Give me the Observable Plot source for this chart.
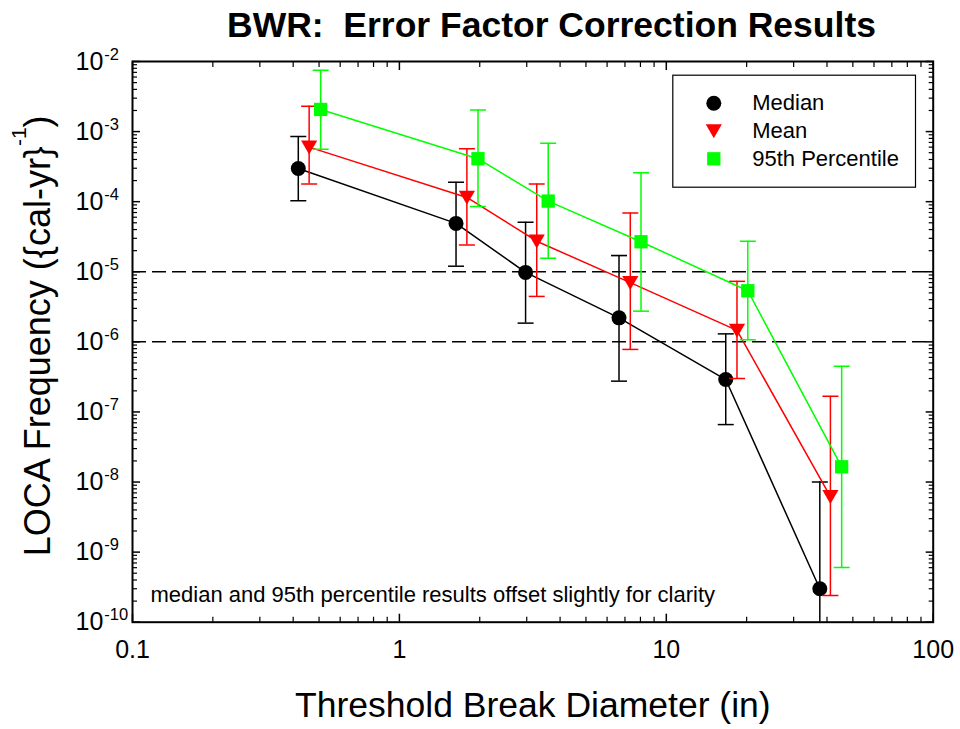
<!DOCTYPE html>
<html>
<head>
<meta charset="utf-8">
<script src="https://cdn.jsdelivr.net/npm/d3@7"></script>
<script src="https://cdn.jsdelivr.net/npm/@observablehq/plot@0.6"></script>
<style>
  html, body { margin: 0; padding: 0; background: #fff; }
  #chart figure { margin: 0; }
  #chart h2 {
    margin: 0;
    padding: 5px 0 0 143px;
    height: 41px;
    line-height: 41px;
    font: bold 35.5px "Liberation Sans", Arial, sans-serif;
    color: #000;
    text-align: center;
    white-space: pre;
  }
  #chart svg { display: block; }
</style>
</head>
<body>
<div id="chart"></div>
<script>
// Threshold break diameter (in) and LOCA frequency per calendar-year, with uncertainty bounds.
// Median and 95th percentile diameters are offset slightly for clarity.
const medianX  = [0.418, 1.63, 2.97, 6.65, 16.7, 37.6];
const medianY  = [2.98e-4, 4.9e-5, 9.8e-6, 2.2e-6, 2.9e-7, 3.0e-10];
const medianLo = [1.03e-4, 1.2e-5, 1.85e-6, 2.75e-7, 6.6e-8, 5e-11];
const medianHi = [8.5e-4, 1.9e-4, 5.1e-5, 1.7e-5, 1.3e-6, 1.0e-8];

const meanX  = [0.459, 1.79, 3.27, 7.33, 18.4, 41.2];
const meanY  = [6.0e-4, 1.15e-4, 2.73e-5, 7.0e-6, 1.46e-6, 6.2e-9];
const meanLo = [1.78e-4, 2.4e-5, 4.45e-6, 7.8e-7, 3.0e-7, 2.4e-10];
const meanHi = [2.3e-3, 5.7e-4, 1.78e-4, 6.9e-5, 7.3e-6, 1.68e-7];

const p95X  = [0.507, 1.97, 3.61, 8.04, 20.2, 45.4];
const p95Y  = [2.07e-3, 4.1e-4, 1.02e-4, 2.68e-5, 5.36e-6, 1.65e-8];
const p95Lo = [5.6e-4, 8.5e-5, 1.56e-5, 2.74e-6, 1.07e-6, 6.05e-10];
const p95Hi = [7.5e-3, 2.04e-3, 6.8e-4, 2.58e-4, 2.73e-5, 4.5e-7];

// Reference frequency levels
const thresholds = [1e-5, 1e-6];

// Axis ticks
const xMajor = [0.1, 1, 10, 100];
const yMajor = [1e-10, 1e-9, 1e-8, 1e-7, 1e-6, 1e-5, 1e-4, 1e-3, 1e-2];
const minorSteps = [2, 3, 4, 5, 6, 7, 8, 9];
const xMinor = xMajor.slice(0, -1).flatMap(d => minorSteps.map(m => +(d * m).toPrecision(3)));
const yMinor = yMajor.slice(0, -1).flatMap(d => minorSteps.map(m => +(d * m).toPrecision(3)));

const titleText = "BWR:  Error Factor Correction Results";
const xLabel = "Threshold Break Diameter (in)";
const yLabel = "LOCA Frequency ({cal-yr}^{-1})";
const note = "median and 95th percentile results offset slightly for clarity";

const rows = (X, Y, Lo, Hi) => X.map((x, i) => ({x, y: Y[i], lo: Lo[i], hi: Hi[i]}));

const series = [
  {name: "Median", color: "#000000", symbol: "circle", r: 7.5, rotate: 0, dy: 0, data: rows(medianX, medianY, medianLo, medianHi)},
  {name: "Mean", color: "#ff0000", symbol: "triangle", r: 6, rotate: 180, dy: -2, data: rows(meanX, meanY, meanLo, meanHi)},
  {name: "95th Percentile", color: "#00ff00", symbol: "square", r: 7.5, rotate: 0, dy: 0, data: rows(p95X, p95Y, p95Lo, p95Hi)}
];

// Horizontal cap for the error bars
const cap = {draw(context) { context.moveTo(-8, 0); context.lineTo(8, 0); }};

const marks = [];

// dashed reference levels
marks.push(Plot.ruleY(thresholds, {stroke: "#000", strokeWidth: 1.5, strokeDasharray: "14,6"}));

for (const s of series) {
  marks.push(Plot.line(s.data, {x: "x", y: "y", stroke: s.color, strokeWidth: 1.5}));
  marks.push(Plot.ruleX(s.data, {x: "x", y1: "lo", y2: "hi", stroke: s.color, strokeWidth: 1.5, clip: true}));
  marks.push(Plot.dot(s.data, {x: "x", y: "hi", symbol: cap, stroke: s.color, strokeWidth: 1.5, fill: "none", clip: true}));
  marks.push(Plot.dot(s.data, {x: "x", y: "lo", symbol: cap, stroke: s.color, strokeWidth: 1.5, fill: "none", clip: true}));
  marks.push(Plot.dot(s.data, {x: "x", y: "y", symbol: s.symbol, r: s.r, rotate: s.rotate, dy: s.dy, fill: s.color, stroke: "none"}));
}

// inward ticks on all four sides
for (const anchor of ["bottom", "top"]) {
  marks.push(Plot.axisX(xMajor, {anchor, tickSize: -8, strokeWidth: 1.5, tickFormat: () => "", label: null}));
  marks.push(Plot.axisX(xMinor, {anchor, tickSize: -5, strokeWidth: 1.2, tickFormat: () => "", label: null}));
}
for (const anchor of ["left", "right"]) {
  marks.push(Plot.axisY(yMajor, {anchor, tickSize: -8, strokeWidth: 1.5, tickFormat: () => "", label: null}));
  marks.push(Plot.axisY(yMinor, {anchor, tickSize: -5, strokeWidth: 1.2, tickFormat: () => "", label: null}));
}

// tick labels
marks.push(Plot.axisX(xMajor, {anchor: "bottom", tickSize: 0, tickPadding: 18, fontSize: 25, tickFormat: d => String(d), label: null}));
marks.push(Plot.axisY(yMajor, {anchor: "left", tickSize: 0, tickPadding: 57, textAnchor: "start", fontSize: 25,
  tickFormat: d => `10^{${Math.round(Math.log10(d))}}`, label: null}));

// axis titles and note
marks.push(Plot.text([xLabel], {text: d => d, frameAnchor: "bottom", textAnchor: "middle", lineAnchor: "bottom", dy: 95, fontSize: 35.5}));
marks.push(Plot.text([yLabel], {text: d => d, frameAnchor: "left", textAnchor: "middle", lineAnchor: "bottom", rotate: -90, dx: -83, dy: -6, fontSize: 36}));
marks.push(Plot.text([note], {text: d => d, frameAnchor: "bottom-left", textAnchor: "start", lineAnchor: "bottom", dx: 18, dy: -20, fontSize: 22}));

// legend
const legendTop = 41.7, legendStep = 27.8;
marks.push(Plot.frame({insetLeft: 540.3, insetRight: 17.7, insetTop: 13.7, insetBottom: 435, stroke: "#000", strokeWidth: 1.2}));
series.forEach((s, i) => {
  marks.push(Plot.dot([s], {frameAnchor: "top-right", dx: -219.4, dy: legendTop + legendStep * i + s.dy,
    symbol: s.symbol, r: s.r, rotate: s.rotate, fill: s.color, stroke: "none"}));
  marks.push(Plot.text([s], {frameAnchor: "top-right", dx: -181, dy: legendTop + legendStep * i,
    text: d => d.name, textAnchor: "start", lineAnchor: "middle", fontSize: 22}));
});

// plot frame
marks.push(Plot.frame({stroke: "#000", strokeWidth: 2}));

const chart = Plot.plot({
  title: titleText,
  width: 960,
  height: 683,
  marginLeft: 132,
  marginRight: 27.3,
  marginTop: 15,
  marginBottom: 107.3,
  style: {fontFamily: "'Liberation Sans', Arial, sans-serif", fontSize: "22px", color: "#000", background: "#fff", overflow: "visible"},
  x: {type: "log", domain: [0.1, 100], axis: null},
  y: {type: "log", domain: [1e-10, 1e-2], axis: null},
  marks
});

document.getElementById("chart").append(chart);

// Render "a^{b}" strings with a raised exponent
d3.select(chart).selectAll("svg text").each(function () {
  const txt = this.textContent;
  const m = /\^\{([^}]*)\}/.exec(txt);
  if (!m) return;
  const sel = d3.select(this);
  const fs = parseFloat(getComputedStyle(this).fontSize);
  const isAxis = fs < 30;
  const supSize = isAxis ? 16.5 : 21;
  const raise = isAxis ? 10 : 24;
  const before = txt.slice(0, m.index);
  const after = txt.slice(m.index + m[0].length);
  sel.text(null);
  sel.append("tspan").text(before);
  sel.append("tspan").attr("dy", -raise).attr("dx", isAxis ? 1 : 0).style("font-size", supSize + "px").text(m[1]);
  if (after) sel.append("tspan").attr("dy", raise).text(after);
});
</script>
</body>
</html>
